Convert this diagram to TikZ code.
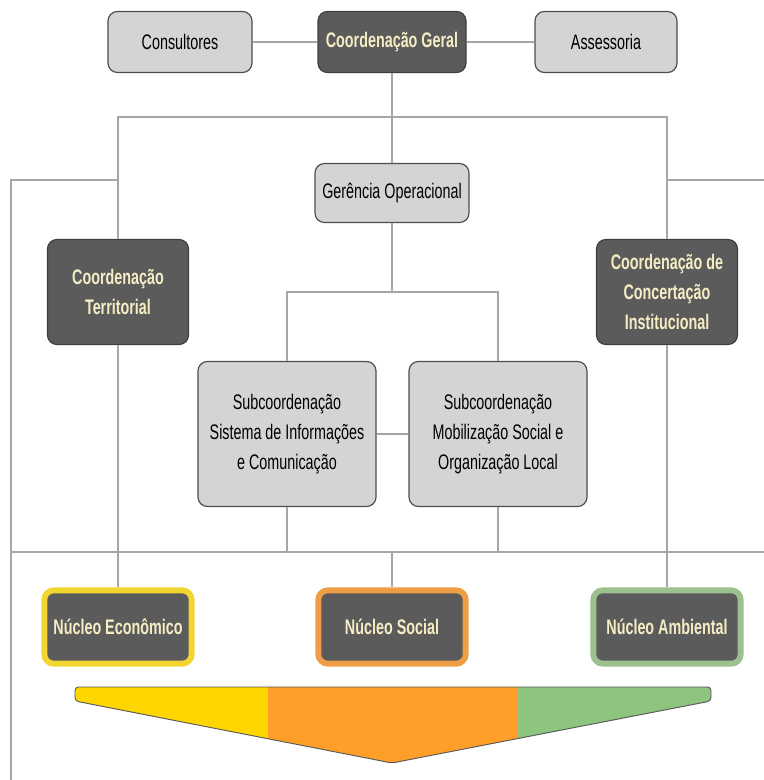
\documentclass[tikz,border=0pt]{standalone}
\usepackage{fontspec}
\setmainfont{Liberation Sans}[FakeStretch=0.68]
\definecolor{boxgray}{HTML}{D4D4D4}
\definecolor{boxedge}{HTML}{4D4D4D}
\definecolor{darkfill}{HTML}{5B5B5B}
\definecolor{darkedge}{HTML}{3E3E3E}
\definecolor{cream}{HTML}{F4EDC4}
\definecolor{linegray}{HTML}{A6A6A6}
\definecolor{ringyellow}{HTML}{F2D531}
\definecolor{ringorange}{HTML}{EE9E45}
\definecolor{ringgreen}{HTML}{9DC08F}
\definecolor{chevyellow}{HTML}{FFD600}
\definecolor{chevorange}{HTML}{FF9F2A}
\definecolor{chevgreen}{HTML}{8DC47E}
\begin{document}
\begin{tikzpicture}
		[x=0.03cm, y=-0.03cm,
		lightnode/.style = {shape=rectangle, rounded corners=8pt, draw=boxedge, line width=1pt, fill=boxgray, align=center, inner sep=0pt, font=\fontsize{18}{25.5}\selectfont},
		darknode/.style = {lightnode, fill=darkfill, draw=darkedge, text=cream, font=\fontsize{18}{25.5}\selectfont\bfseries},
		corenode/.style = {darknode, draw=#1, line width=5pt, minimum width=4.42cm, minimum height=2.2cm},
		link/.style = {draw=linegray, line width=1.5pt}]
	\useasboundingbox (0,0) rectangle (764,780);
	% top row
	\node[lightnode, minimum width=4.32cm, minimum height=1.83cm] (cons) at (180,42) {Consultores};
	\node[darknode, minimum width=4.44cm, minimum height=1.83cm] (geral) at (392,42) {Coordenação Geral};
	\node[lightnode, minimum width=4.26cm, minimum height=1.83cm] (asse) at (606,42) {Assessoria};
	% middle
	\node[lightnode, minimum width=4.62cm, minimum height=1.77cm] (geren) at (392,193) {Gerência Operacional};
	\node[darknode, minimum width=4.23cm, minimum height=3.15cm] (terr) at (118,292) {Coordenação\\Territorial};
	\node[darknode, minimum width=4.23cm, minimum height=3.15cm] (conc) at (667,292) {Coordenação de\\Concertação\\Institucional};
	\node[lightnode, minimum width=5.34cm, minimum height=4.35cm] (subA) at (287,434) {Subcoordenação\\Sistema de Informações\\e Comunicação};
	\node[lightnode, minimum width=5.34cm, minimum height=4.35cm] (subB) at (498,434) {Subcoordenação\\Mobilização Social e\\Organização Local};
	% nucleos
	\node[corenode=ringyellow] (necon) at (118,627) {Núcleo Econômico};
	\node[corenode=ringorange] (nsoc) at (392,627) {Núcleo Social};
	\node[corenode=ringgreen] (namb) at (667,627) {Núcleo Ambiental};
	% junctions
	\coordinate (bar) at (392,117);
	\coordinate (fork) at (392,292);
	\coordinate (edgeL) at (11,780);
	\coordinate (edgeR) at (764,180);
	\coordinate (baseL) at (11,552);
	\coordinate (baseR) at (764,552);
	% links
	\draw[link] (cons) -- (geral);
	\draw[link] (geral) -- (asse);
	\draw[link] (geral) -- (geren);
	\draw[link] (terr.north) |- (bar) -| (conc.north);
	\draw[link] (terr.north |- edgeR) -| (edgeL);
	\draw[link] (conc.north |- edgeR) -- (edgeR);
	\draw[link] (baseL) -- (baseR);
	\draw[link] (geren) -- (fork);
	\draw[link] (subA.north) |- (fork) -| (subB.north);
	\draw[link] (subA) -- (subB);
	\draw[link] (subA.south) -- (subA.south |- baseL);
	\draw[link] (subB.south) -- (subB.south |- baseL);
	\draw[link] (nsoc.north |- baseL) -- (nsoc.north);
	\draw[link] (terr) -- (necon);
	\draw[link] (conc) -- (namb);
	% chevron
	\begin{scope}
		\clip[rounded corners=3pt] (75,687) -- (711,687) -- (711,701) -- (392,763) -- (75,701) -- cycle;
		\fill[chevyellow] (70,680) rectangle (268,770);
		\fill[chevorange] (268,680) rectangle (518,770);
		\fill[chevgreen] (518,680) rectangle (716,770);
	\end{scope}
	\draw[gray!70!black, line width=0.8pt, rounded corners=3pt] (75,687) -- (711,687) -- (711,701) -- (392,763) -- (75,701) -- cycle;
\end{tikzpicture}
\end{document}
